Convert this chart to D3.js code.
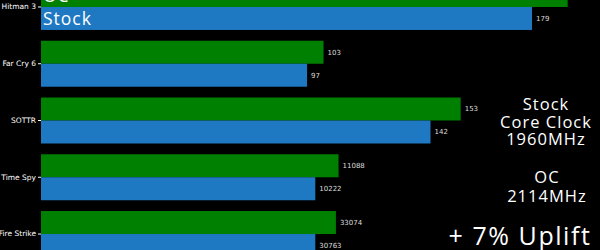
<!DOCTYPE html>
<html>
<head>
<meta charset="utf-8">
<script src="https://cdn.jsdelivr.net/npm/d3@7"></script>
<style>
  body { margin: 0; background: #000; }
  svg { display: block; background: #000; }
</style>
</head>
<body>
<svg id="chart" width="600" height="250"></svg>
<script>
// benchmarks, top to bottom
var categories = ["Hitman 3", "Far Cry 6", "SOTTR", "Time Spy", "Fire Strike"];
// fps for games, score for synthetic tests
var units = ["fps", "fps", "fps", "score", "score"];
var ocValues = [192, 103, 153, 11088, 33074];
var stockValues = [179, 97, 142, 10222, 30763];
var series = ["OC", "Stock"];
var colors = ["#008000", "#1f78c2"];

var svg = d3.select("#chart");

// scores are drawn relative to stock = 100 so they fit the fps axis
var rows = categories.map(function(c, i) {
    var norm = units[i] === "score" ? 100 / stockValues[i] : 1;
    return {
        name: c,
        values: [
            { key: "OC", value: ocValues[i], bar: ocValues[i] * norm },
            { key: "Stock", value: stockValues[i], bar: stockValues[i] * norm }
        ]
    };
});

var x = d3.scaleLinear()
    .domain([0, 179])
    .range([41, 532]);

var y = d3.scaleBand()
    .domain(categories)
    .range([-21.4, 262.4])
    .paddingInner(0.19)
    .paddingOuter(0.095);

var y1 = d3.scaleBand()
    .domain(series)
    .range([0, y.bandwidth()]);

var color = d3.scaleOrdinal().domain(series).range(colors);

var group = svg.selectAll(".group")
    .data(rows)
  .enter().append("g")
    .attr("class", "group")
    .attr("transform", function(d) { return "translate(0," + y(d.name) + ")"; });

group.selectAll("rect")
    .data(function(d) { return d.values; })
  .enter().append("rect")
    .attr("x", x(0))
    .attr("y", function(d) { return y1(d.key); })
    .attr("width", function(d) { return x(d.bar) - x(0); })
    .attr("height", y1.bandwidth())
    .attr("fill", function(d) { return color(d.key); });

group.selectAll(".val")
    .data(function(d) { return d.values; })
  .enter().append("text")
    .attr("class", "val")
    .attr("x", function(d) { return x(d.bar) + 4; })
    .attr("y", function(d) { return y1(d.key) + y1.bandwidth() / 2; })
    .attr("dy", "0.35em")
    .attr("fill", "#ddd")
    .style("font-family", "DejaVu Sans")
    .style("font-size", "7px")
    .text(function(d) { return d.value; });

// category axis
var yAxis = svg.append("g")
    .attr("transform", "translate(" + x(0) + ",0)")
    .call(d3.axisLeft(y).tickSize(3).tickPadding(2));
yAxis.select(".domain").remove();
yAxis.selectAll("line").attr("stroke", "#fff");
yAxis.selectAll("text")
    .attr("fill", "#fff")
    .style("font-family", "DejaVu Sans")
    .style("font-size", "7.5px");

// series names written inside the first pair of bars
svg.selectAll(".serieslabel")
    .data(series)
  .enter().append("text")
    .attr("class", "serieslabel")
    .attr("x", x(0) + 2)
    .attr("y", function(d) { return y(categories[0]) + y1(d) + y1.bandwidth() - 5; })
    .attr("fill", "#fff")
    .style("font-family", "Open Sans")
    .style("font-size", "17.5px")
    .style("letter-spacing", "1px")
    .text(function(d) { return d; });

// notes on the right
var notes = [
    { lines: ["Stock", "Core Clock", "1960MHz"], x: 546, y: 110, size: 16.5, lh: 17.5 },
    { lines: ["OC", "2114MHz"], x: 547, y: 183, size: 16.5, lh: 19 },
    { lines: ["+ 7% Uplift"], x: 520, y: 245, size: 25, lh: 25 }
];
notes.forEach(function(n) {
    var t = svg.append("text")
        .attr("text-anchor", "middle")
        .attr("fill", "#fff")
        .style("font-family", "Open Sans")
        .style("font-size", n.size + "px")
        .style("letter-spacing", (n.size / 16) + "px");
    n.lines.forEach(function(l, i) {
        t.append("tspan").attr("x", n.x).attr("y", n.y + i * n.lh).text(l);
    });
});
</script>
</body>
</html>
